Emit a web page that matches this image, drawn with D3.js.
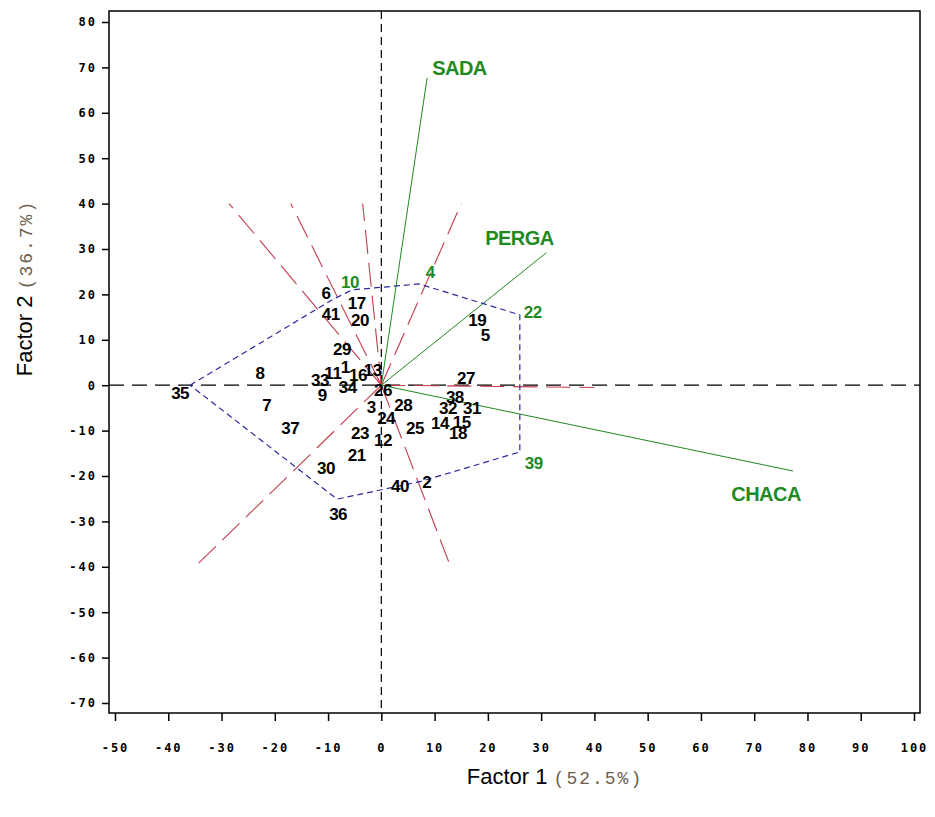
<!DOCTYPE html>
<html>
<head>
<meta charset="utf-8">
<script src="https://cdn.jsdelivr.net/npm/d3@7"></script>
<style>
  body { margin: 0; background: #fff; }
  svg { display: block; }
</style>
</head>
<body>
<div id="chart"></div>
<script>
// ############################################################################
// GGE biplot (which-won-where polygon)
// ############################################################################

// ----------------------------------------------------------------------------
// Data
// ----------------------------------------------------------------------------

const xTicks = d3.range(-50, 101, 10)
const yTicks = d3.range(-70, 81, 10)

// genotype scores [id, factor1, factor2]
const genotypes = [
  [1, -6.8, 4.0],   [2, 7.4, -21.2],  [3, -1.9, -4.8],  [4, 7.1, 22.3],
  [5, 19.5, 11.0],  [6, -9.1, 18.9],  [7, -21.5, -4.4], [8, -22.8, 2.7],
  [9, -11.1, -2.2], [10, -5.5, 21.0], [11, -9.1, 2.7],  [12, 0.3, -12.1],
  [13, -1.6, 3.3],  [14, 11.0, -8.3], [15, 15.1, -8.1], [16, -4.4, 2.2],
  [17, -4.6, 18.1], [18, 14.4, -10.5],[19, 18.0, 14.4], [20, -4.0, 14.4],
  [21, -4.6, -15.4],[22, 26.0, 15.5], [23, -4.0, -10.5],[24, 0.9, -7.2],
  [25, 6.3, -9.4],  [26, 0.3, -1.1],  [27, 15.9, 1.6],  [28, 4.1, -4.4],
  [29, -7.4, 8.0],  [30, -10.4, -18.2],[31, 17.0, -5.0],[32, 12.5, -5.0],
  [33, -11.5, 1.1], [34, -6.3, -0.4], [35, -35.9, 0.0], [36, -8.3, -25.1],
  [37, -17.1, -9.4],[38, 13.8, -2.6], [39, 26.0, -14.7],[40, 3.5, -22.2],
  [41, -9.5, 15.7]
]

// polygon vertices (genotype ids, in order)
const hullIds = [35, 6, 10, 4, 22, 39, 2, 36]

// environment vectors [name, factor1, factor2]
const environments = [
  ["SADA", 8.6, 67.7],
  ["PERGA", 31.0, 29.2],
  ["CHACA", 77.3, -18.9]
]

// rays perpendicular to polygon sides, end points [factor1, factor2]
const rays = [
  [-28.6, 40], [-17, 40], [-3.5, 40], [15, 40],
  [40, -0.5], [13, -40], [-35, -40]
]

// ----------------------------------------------------------------------------
// Styles
// ----------------------------------------------------------------------------

const W = 935, H = 817
const green = "#1f8a1f"
const labelFont = "'Liberation Sans', Arial, sans-serif"
const monoFont = "'Liberation Mono', 'Courier New', monospace"

// label offsets (px) for polygon vertices so labels sit outside
const vertexLabelOffset = {
  35: [-10, 8], 6: [-7, -6], 10: [-2, -8], 4: [11, -12],
  22: [13, -3], 39: [14, 11], 2: [6, 1], 36: [1, 15]
}
const greenIds = [10, 4, 22, 39]
const envLabelOffset = {
  SADA: [5, -10, "start"], PERGA: [-27, -15, "middle"], CHACA: [-27, 23, "middle"]
}

// ----------------------------------------------------------------------------
// Setup
// ----------------------------------------------------------------------------

const svg = d3.select("#chart").append("svg")
  .attr("width", W)
  .attr("height", H)
  .style("background", "#fff")

const x = d3.scaleLinear().domain([-50, 100]).range([115, 914])
const y = d3.scaleLinear().domain([-70, 80]).range([703, 22])

const frame = { left: 109, top: 11, right: 920, bottom: 713 }

// ----------------------------------------------------------------------------
// Axes
// ----------------------------------------------------------------------------

const tickStyle = sel => {
  sel.select(".domain").remove()
  sel.selectAll(".tick line").attr("stroke", "#000").attr("stroke-width", 1.5)
  sel.selectAll(".tick text")
    .attr("fill", "#000")
    .style("font-family", "'DejaVu Sans Mono', monospace")
    .style("font-size", "12px")
    .style("font-weight", "bold")
    .style("letter-spacing", "2px")
}

svg.append("g")
  .attr("transform", `translate(${frame.left},0)`)
  .call(d3.axisLeft(y).tickValues(yTicks).tickSize(7).tickPadding(5).tickFormat(d => d))
  .call(tickStyle)

svg.append("g")
  .attr("transform", `translate(0,${frame.bottom})`)
  .call(d3.axisBottom(x).tickValues(xTicks).tickSize(8).tickPadding(22).tickFormat(d => d))
  .call(tickStyle)

// frame
svg.append("rect")
  .attr("x", frame.left).attr("y", frame.top)
  .attr("width", frame.right - frame.left)
  .attr("height", frame.bottom - frame.top)
  .attr("fill", "none")
  .attr("stroke", "#000")
  .attr("stroke-width", 1.5)

// axis titles
const xTitle = svg.append("text")
  .attr("x", 555).attr("y", 784)
  .attr("text-anchor", "middle")
xTitle.append("tspan")
  .style("font-family", labelFont).style("font-size", "22px")
  .text("Factor 1 ")
xTitle.append("tspan")
  .style("font-family", monoFont).style("letter-spacing", "2px")
  .style("font-size", "18px").attr("fill", "#6e5e4e")
  .text("(52.5%)")

const yTitle = svg.append("text")
  .attr("transform", "translate(32,288) rotate(-90)")
  .attr("text-anchor", "middle")
yTitle.append("tspan")
  .style("font-family", labelFont).style("font-size", "22px")
  .text("Factor 2 ")
yTitle.append("tspan")
  .style("font-family", monoFont).style("letter-spacing", "2px")
  .style("font-size", "18px").attr("fill", "#6e5e4e")
  .text("(36.7%)")

// ----------------------------------------------------------------------------
// Plot content
// ----------------------------------------------------------------------------

const plot = svg.append("g")

// reference lines through origin
plot.append("line")
  .attr("x1", frame.left).attr("x2", frame.right)
  .attr("y1", y(0)).attr("y2", y(0))
  .attr("stroke", "#000").attr("stroke-width", 1.2)
  .attr("stroke-dasharray", "15,8")
plot.append("line")
  .attr("x1", x(0)).attr("x2", x(0))
  .attr("y1", frame.top).attr("y2", frame.bottom)
  .attr("stroke", "#000").attr("stroke-width", 1.2)
  .attr("stroke-dasharray", "8,5")

// perpendicular rays
plot.selectAll(".ray").data(rays).join("line")
  .attr("class", "ray")
  .attr("x1", x(0)).attr("y1", y(0))
  .attr("x2", d => x(d[0])).attr("y2", d => y(d[1]))
  .attr("stroke", "#c43b4b").attr("stroke-width", 1.1)
  .attr("stroke-dasharray", "24,9")

// environment vectors
plot.selectAll(".env").data(environments).join("line")
  .attr("class", "env")
  .attr("x1", x(0)).attr("y1", y(0))
  .attr("x2", d => x(d[1])).attr("y2", d => y(d[2]))
  .attr("stroke", green).attr("stroke-width", 1)

// polygon
const byId = new Map(genotypes.map(g => [g[0], g]))
const hull = hullIds.map(id => byId.get(id))
plot.append("path")
  .attr("d", d3.line().x(d => x(d[1])).y(d => y(d[2])).curve(d3.curveLinearClosed)(hull))
  .attr("fill", "none")
  .attr("stroke", "#2a2aa0").attr("stroke-width", 1.2)
  .attr("stroke-dasharray", "6,4")

// genotype labels
const off = (id, i) => vertexLabelOffset[id] ? vertexLabelOffset[id][i] : 0
plot.selectAll(".geno").data(genotypes).join("text")
  .attr("class", "geno")
  .attr("x", d => x(d[1]) + off(d[0], 0))
  .attr("y", d => y(d[2]) + off(d[0], 1))
  .attr("dy", "0.35em")
  .attr("text-anchor", "middle")
  .attr("fill", d => greenIds.includes(d[0]) ? green : "#000")
  .style("font-family", labelFont)
  .style("font-size", "17px")
  .style("font-weight", "bold")
  .style("letter-spacing", "-0.5px")
  .text(d => d[0])

// environment labels
plot.selectAll(".envlab").data(environments).join("text")
  .attr("class", "envlab")
  .attr("x", d => x(d[1]) + envLabelOffset[d[0]][0])
  .attr("y", d => y(d[2]) + envLabelOffset[d[0]][1])
  .attr("dy", "0.35em")
  .attr("text-anchor", d => envLabelOffset[d[0]][2])
  .attr("fill", green)
  .style("font-family", labelFont)
  .style("font-size", "20px")
  .style("font-weight", "bold")
  .style("letter-spacing", "-0.5px")
  .text(d => d[0])
</script>
</body>
</html>
